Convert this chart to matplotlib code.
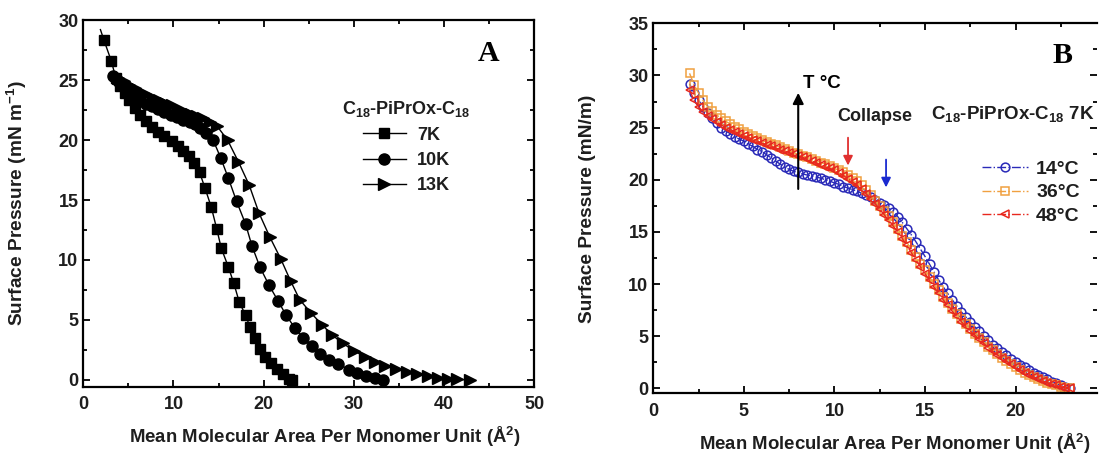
import matplotlib
matplotlib.use("Agg")
import matplotlib.pyplot as plt
from matplotlib.ticker import MultipleLocator

plt.rcParams['font.family'] = ['Liberation Sans', 'DejaVu Sans']
plt.rcParams['font.weight'] = 'bold'
plt.rcParams['mathtext.fontset'] = 'custom'
plt.rcParams['mathtext.rm'] = 'Liberation Sans:bold'
plt.rcParams['mathtext.it'] = 'Liberation Sans:bold'
plt.rcParams['mathtext.bf'] = 'Liberation Sans:bold'
plt.rcParams['mathtext.default'] = 'rm'

# ---------------- Panel A data ----------------
labels_A = ["7K", "10K", "13K"]
x_7k = [1.9, 2.3, 3.1, 3.6, 4.1, 4.6, 5.1, 5.7, 6.3, 6.9, 7.6, 8.3, 9.0, 9.8, 10.5, 11.1,
        11.7, 12.3, 12.9, 13.5, 14.2, 14.8, 15.3, 16.1, 16.7, 17.3, 18.0, 18.5, 19.0, 19.6,
        20.2, 20.8, 21.5, 22.1, 22.8, 23.1]
y_7k = [29.2, 28.3, 26.6, 25.2, 24.5, 23.9, 23.3, 22.7, 22.1, 21.6, 21.1, 20.7, 20.3, 19.9,
        19.5, 19.1, 18.7, 18.1, 17.3, 16.0, 14.4, 12.6, 11.0, 9.4, 8.05, 6.5, 5.4, 4.4, 3.5,
        2.6, 1.9, 1.4, 0.9, 0.5, 0.1, 0.0]
x_10k = [3.3, 3.9, 4.5, 5.1, 5.7, 6.3, 6.9, 7.6, 8.3, 9.0, 9.7, 10.4, 11.1, 11.8, 12.4, 13.0,
         13.6, 14.4, 15.25, 16.1, 17.0, 18.0, 18.7, 19.6, 20.6, 21.6, 22.5, 23.5, 24.4, 25.4,
         26.3, 27.3, 28.3, 29.5, 30.4, 31.4, 32.4, 33.3]
y_10k = [25.3, 24.9, 24.5, 24.1, 23.7, 23.3, 23.0, 22.8, 22.6, 22.3, 22.1, 21.9, 21.7, 21.5,
         21.3, 21.0, 20.6, 20.0, 18.5, 16.8, 14.9, 13.0, 11.2, 9.4, 7.9, 6.6, 5.4, 4.3, 3.5,
         2.8, 2.2, 1.7, 1.35, 0.85, 0.55, 0.3, 0.15, 0.0]
x_13k = [3.9, 4.5, 5.1, 5.7, 6.3, 7.0, 7.7, 8.4, 9.1, 9.8, 10.5, 11.2, 11.9, 12.6, 13.3, 14.0,
         14.8, 16.0, 17.2, 18.4, 19.5, 20.7, 21.9, 23.0, 24.0, 25.3, 26.5, 27.6, 28.8, 30.0,
         31.2, 32.4, 33.5, 34.7, 35.9, 37.0, 38.2, 39.4, 40.5, 41.5, 42.9]
y_13k = [25.2, 24.9, 24.6, 24.3, 24.0, 23.8, 23.5, 23.3, 23.1, 22.9, 22.6, 22.4, 22.2, 22.0,
         21.8, 21.5, 21.2, 20.0, 18.2, 16.25, 13.9, 11.9, 10.1, 8.25, 6.7, 5.55, 4.6, 3.75,
         3.05, 2.45, 1.95, 1.5, 1.2, 0.9, 0.7, 0.5, 0.35, 0.2, 0.12, 0.05, 0.0]

# ---------------- Panel B data ----------------
labels_B = ["14°C", "36°C", "48°C"]
area_B = [2.00, 2.25, 2.50, 2.75, 3.00, 3.25, 3.50, 3.75, 4.00, 4.25, 4.50, 4.75, 5.00, 5.25,
          5.50, 5.75, 6.00, 6.25, 6.50, 6.75, 7.00, 7.25, 7.50, 7.75, 8.00, 8.25, 8.50, 8.75,
          9.00, 9.25, 9.50, 9.75, 10.00, 10.25, 10.50, 10.75, 11.00, 11.25, 11.50, 11.75,
          12.00, 12.25, 12.50, 12.75, 13.00, 13.25, 13.50, 13.75, 14.00, 14.25, 14.50, 14.75,
          15.00, 15.25, 15.50, 15.75, 16.00, 16.25, 16.50, 16.75, 17.00, 17.25, 17.50, 17.75,
          18.00, 18.25, 18.50, 18.75, 19.00, 19.25, 19.50, 19.75, 20.00, 20.25, 20.50, 20.75,
          21.00, 21.25, 21.50, 21.75, 22.00, 22.25, 22.50, 22.75, 23.00]
p_14 = [29.2, 28.3, 27.6, 27.0, 26.4, 25.9, 25.4, 25.0, 24.7, 24.4, 24.1, 23.9, 23.7, 23.4,
        23.2, 22.9, 22.7, 22.4, 22.1, 21.8, 21.5, 21.2, 21.0, 20.8, 20.7, 20.55, 20.45, 20.35,
        20.25, 20.15, 20.0, 19.85, 19.7, 19.55, 19.35, 19.2, 19.05, 18.9, 18.7, 18.5,
        18.3, 18.05, 17.8, 17.55, 17.25, 16.9, 16.45, 15.9, 15.3, 14.7, 14.05, 13.35,
        12.65, 11.9, 11.15, 10.4, 9.75, 9.1, 8.5, 7.9, 7.35, 6.85, 6.35, 5.9,
        5.45, 5.0, 4.6, 4.2, 3.85, 3.5, 3.15, 2.85, 2.55, 2.25, 2.0, 1.75,
        1.5, 1.25, 1.05, 0.85, 0.65, 0.47, 0.3, 0.14, 0.0]
p_36 = [30.2, 29.1, 28.3, 27.6, 27.0, 26.6, 26.2, 25.9, 25.6, 25.35, 25.1, 24.85, 24.6, 24.4,
        24.2, 24.0, 23.8, 23.6, 23.45, 23.3, 23.1, 22.95, 22.8, 22.6, 22.45, 22.3, 22.15, 22.0,
        21.8, 21.65, 21.5, 21.3, 21.1, 20.9, 20.7, 20.45, 20.2, 19.85, 19.45, 19.0,
        18.5, 18.0, 17.5, 17.0, 16.5, 15.9, 15.3, 14.65, 14.0, 13.3, 12.6, 11.95,
        11.3, 10.65, 10.0, 9.4, 8.8, 8.2, 7.6, 7.1, 6.6, 6.15, 5.7, 5.25,
        4.8, 4.4, 4.0, 3.65, 3.3, 2.95, 2.6, 2.3, 2.0, 1.75, 1.5, 1.3,
        1.1, 0.9, 0.7, 0.55, 0.4, 0.27, 0.15, 0.07, 0.0]
p_48 = [28.6, 27.6, 27.0, 26.5, 26.1, 25.8, 25.5, 25.25, 25.0, 24.8, 24.6, 24.4, 24.2, 24.05,
        23.85, 23.7, 23.5, 23.35, 23.2, 23.05, 22.9, 22.75, 22.6, 22.45, 22.3, 22.15, 21.95, 21.8,
        21.6, 21.45, 21.25, 21.1, 20.9, 20.65, 20.4, 20.1, 19.8, 19.45, 19.1, 18.65,
        18.2, 17.7, 17.2, 16.65, 16.1, 15.55, 15.0, 14.35, 13.7, 13.0, 12.3, 11.65,
        11.0, 10.35, 9.7, 9.1, 8.5, 7.95, 7.4, 6.9, 6.4, 5.95, 5.5, 5.1,
        4.7, 4.3, 3.9, 3.55, 3.2, 2.9, 2.6, 2.3, 2.0, 1.75, 1.5, 1.3,
        1.1, 0.9, 0.7, 0.55, 0.4, 0.27, 0.15, 0.07, 0.0]

TICK_FS = 13
LABEL_FS = 13.4
TEXT_COLOR = '#1e1e1e'

fig = plt.figure(figsize=(10.99, 4.59), dpi=100)
axA = fig.add_axes([0.0758, 0.1575, 0.4101, 0.7989])
axB = fig.add_axes([0.5945, 0.1431, 0.4037, 0.8061])

def style(ax):
    for s in ax.spines.values():
        s.set_linewidth(1.6)
    ax.tick_params(which='both', direction='in', top=True, right=True,
                   labelsize=TICK_FS, width=1.3, colors='black', labelcolor=TEXT_COLOR)
    ax.tick_params(which='major', length=5)
    ax.tick_params(which='minor', length=3)
    ax.tick_params(axis='x', which='major', pad=7)
    for lab in ax.get_xticklabels() + ax.get_yticklabels():
        lab.set_fontweight('bold')

# ---------------- Panel A ----------------
axA.plot(x_7k, y_7k, '-', color='black', lw=1.0, marker='s', ms=7.5,
         markevery=slice(1, None), label=labels_A[0])
axA.plot(x_10k, y_10k, '-', color='black', lw=1.0, marker='o', ms=8, label=labels_A[1])
axA.plot(x_13k, y_13k, '-', color='black', lw=1.0, marker='>', ms=8, label=labels_A[2])
axA.set_xlim(0, 50)
axA.set_ylim(-0.56, 30)
axA.xaxis.set_major_locator(MultipleLocator(10))
axA.xaxis.set_minor_locator(MultipleLocator(5))
axA.yaxis.set_major_locator(MultipleLocator(5))
axA.yaxis.set_minor_locator(MultipleLocator(2.5))
style(axA)
axA.set_xlabel("Mean Molecular Area Per Monomer Unit (Å$^2$)", fontsize=LABEL_FS,
               fontweight='bold', color=TEXT_COLOR)
axA.set_ylabel("Surface Pressure (mN m$^{-1}$)", fontsize=13.8, fontweight='bold',
               color=TEXT_COLOR)
axA.xaxis.set_label_coords(0.536, -0.105)
axA.yaxis.set_label_coords(-0.12, 0.5)
legA = axA.legend(loc='upper left', bbox_to_anchor=(27.7, 24.2), bbox_transform=axA.transData,
                  frameon=False, title="C$_{18}$-PiPrOx-C$_{18}$",
                  prop={'weight': 'bold', 'size': 13}, handlelength=2.4, handletextpad=0.6,
                  labelspacing=0.45, borderpad=0, markerscale=1.0)
legA.get_title().set_fontsize(13)
legA.get_title().set_fontweight('bold')
legA.get_title().set_color(TEXT_COLOR)
for t in legA.get_texts():
    t.set_color(TEXT_COLOR)
axA.text(45.0, 27.2, "A", family='Liberation Serif', fontweight='bold', fontsize=21.5,
         ha='center', va='center')

# ---------------- Panel B ----------------
axB.plot(area_B, p_14, linestyle='-.', color='#2a2ab8', lw=1.0, marker='o', ms=6.3,
         mfc='none', mew=1.1, label=labels_B[0])
axB.plot(area_B, p_36, linestyle='-.', color='#f0a040', lw=1.0, marker='s', ms=6.0,
         mfc='none', mew=1.1, label=labels_B[1])
axB.plot(area_B, p_48, linestyle='-.', color='#e8281e', lw=1.0, marker='<', ms=6.3,
         mfc='none', mew=1.1, label=labels_B[2])
axB.set_xlim(0, 24.5)
axB.set_ylim(-0.48, 35)
axB.xaxis.set_major_locator(MultipleLocator(5))
axB.xaxis.set_minor_locator(MultipleLocator(2.5))
axB.yaxis.set_major_locator(MultipleLocator(5))
axB.yaxis.set_minor_locator(MultipleLocator(2.5))
style(axB)
axB.spines['right'].set_visible(False)
axB.set_xlabel("Mean Molecular Area Per Monomer Unit (Å$^2$)", fontsize=LABEL_FS,
               fontweight='bold', color=TEXT_COLOR)
axB.set_ylabel("Surface Pressure (mN/m)", fontsize=13.8, fontweight='bold',
               color=TEXT_COLOR)
axB.xaxis.set_label_coords(0.545, -0.105)
axB.yaxis.set_label_coords(-0.129, 0.5)
legB = axB.legend(loc='upper left', bbox_to_anchor=(17.6, 22.8), bbox_transform=axB.transData,
                  frameon=False, prop={'weight': 'bold', 'size': 14},
                  handlelength=2.4, handletextpad=0.4, labelspacing=0.3, borderpad=0)
for t in legB.get_texts():
    t.set_color(TEXT_COLOR)
axB.text(22.6, 31.9, "B", family='Liberation Serif', fontweight='bold', fontsize=21.5,
         ha='center', va='center')
axB.annotate("", xy=(8.0, 28.6), xytext=(8.0, 18.85),
             arrowprops=dict(arrowstyle='-|>', color='black', lw=1.5, mutation_scale=16))
axB.text(8.25, 29.2, "T °C", fontsize=13.5, fontweight='bold', ha='left', va='center')
axB.annotate("", xy=(10.75, 21.1), xytext=(10.75, 24.3),
             arrowprops=dict(arrowstyle='-|>', color='#e03030', lw=1.3, mutation_scale=14))
axB.annotate("", xy=(12.85, 19.0), xytext=(12.85, 22.2),
             arrowprops=dict(arrowstyle='-|>', color='#1a2ad0', lw=1.3, mutation_scale=14))
axB.text(12.2, 26.1, "Collapse", fontsize=13, fontweight='bold', ha='center', va='center',
         color=TEXT_COLOR)
axB.text(24.35, 26.35, "C$_{18}$-PiPrOx-C$_{18}$ 7K", fontsize=13.5, fontweight='bold',
         ha='right', va='center', color=TEXT_COLOR)

fig.savefig("out.png", dpi=100)
